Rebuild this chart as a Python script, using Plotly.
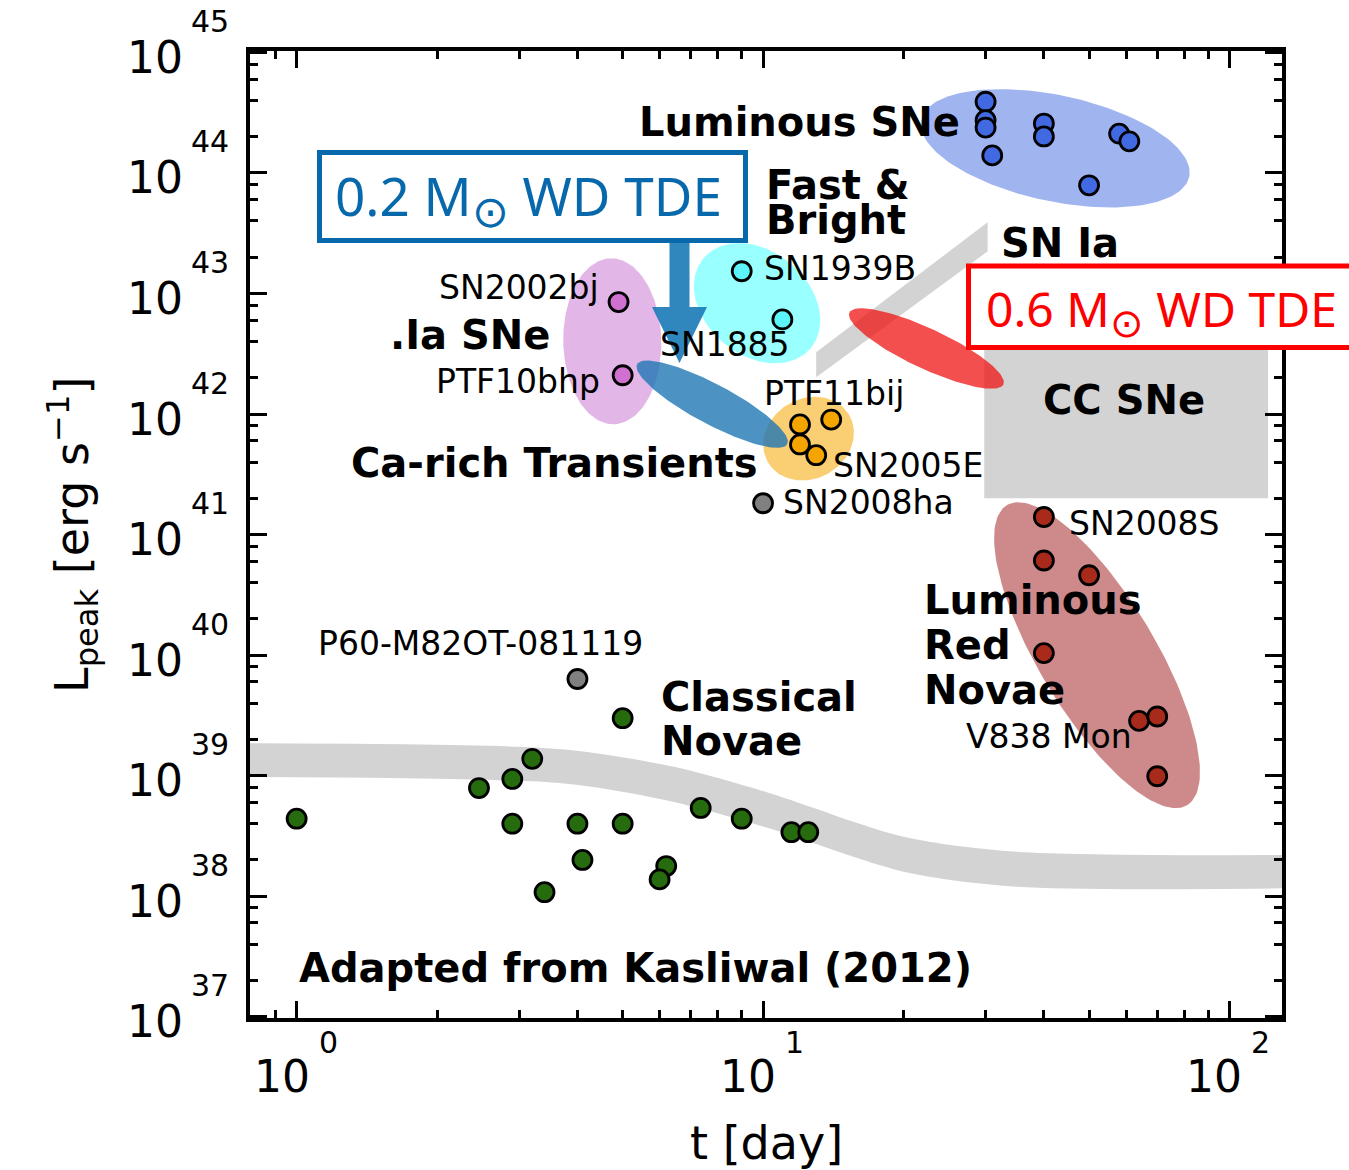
import numpy as np
import plotly.graph_objects as go

# ---------------- data (t in days, L_peak in erg/s) ----------------
novae_t = [1.0, 2.46, 2.9, 3.2, 2.9, 4.0, 5.0, 5.0, 4.1, 3.4, 6.2, 6.0, 7.35, 9.0, 11.5, 12.5]
novae_L = [4.4e38, 7.9e38, 9.4e38, 1.38e39, 4.0e38, 4.0e38, 4.0e38, 3.0e39, 2.0e38, 1.08e38,
           1.78e38, 1.38e38, 5.4e38, 4.4e38, 3.4e38, 3.4e38]
lumsn_t = [30, 30, 30, 31, 40, 40, 50, 58, 61]
lumsn_L = [3.9e44, 2.74e44, 2.38e44, 1.4e44, 2.57e44, 2.01e44, 7.9e43, 2.12e44, 1.83e44]
fast_t = [9.0, 11.0]
fast_L = [1.53e43, 6.1e42]
dotia_t = [4.9, 5.0]
dotia_L = [8.5e42, 2.1e42]
carich_t = [12.0, 14.0, 12.0, 13.0]
carich_L = [8.2e41, 9.0e41, 5.6e41, 4.56e41]
other_t = [10.0, 4.0]          # SN2008ha, P60-M82OT-081119
other_L = [1.82e41, 6.34e39]
lrn_t = [40, 40, 50, 40, 64, 70, 70]
lrn_L = [1.40e41, 6.1e40, 4.6e40, 1.04e40, 2.85e39, 3.1e39, 9.9e38]

# classical-novae band (grey)
band_t = [0.6, 3.7, 6.4, 10.3, 20, 35, 150]
band_hi = [1.86e39, 1.66e39, 1.19e39, 7.2e38, 3.12e38, 2.34e38, 2.2e38]
band_lo = [9.8e38, 8.65e38, 6.08e38, 3.66e38, 1.6e38, 1.2e38, 1.17e38]
# SN Ia band (grey parallelogram)
snia_t = [13, 30.3, 30.3, 13]
snia_L = [3.26e42, 3.9e43, 2.24e43, 2.02e42]
# CC SNe region (grey rectangle)
ccsn_t = [29.8, 121, 121, 29.8]
ccsn_L = [3.7e42, 3.7e42, 2.0e41, 2.0e41]

x_exps = [0, 1, 2]
y_exps = [37, 38, 39, 40, 41, 42, 43, 44, 45]
x_minor = [0.9] + [m * 10 ** k for k in (0, 1) for m in range(2, 10)]
y_minor = [m * 10.0 ** k for k in range(37, 45) for m in (2, 4, 6, 8)]

# ---------------- layout geometry ----------------
W, H = 1349, 1170
ML, MR, MT, MB = 250, 67, 51, 152
XR = [-0.1, 2.1126]
YR = [36.99, 45.012]
PW, PH = W - ML - MR, H - MT - MB
PX_X = PW / (XR[1] - XR[0])
PX_Y = PH / (YR[1] - YR[0])


def ellipse(tc, Lc, a, b, ang, n=160):
    th = np.linspace(0, 2 * np.pi, n)
    r = np.radians(ang)
    dx = a * np.cos(th) * np.cos(r) - b * np.sin(th) * np.sin(r)
    dy = a * np.cos(th) * np.sin(r) + b * np.sin(th) * np.cos(r)
    return 10 ** (np.log10(tc) + dx / PX_X), 10 ** (np.log10(Lc) - dy / PX_Y)


fig = go.Figure()


def region(x, y, color, shape="linear"):
    fig.add_trace(go.Scatter(x=list(x), y=list(y), mode="lines", fill="toself", fillcolor=color,
                             line=dict(width=0, shape=shape), hoverinfo="skip", showlegend=False))


GREY = "#d3d3d3"
# novae band
fig.add_trace(go.Scatter(x=band_t, y=band_lo, mode="lines", line=dict(width=0, shape="spline", smoothing=0.8),
                         hoverinfo="skip", showlegend=False))
fig.add_trace(go.Scatter(x=band_t, y=band_hi, mode="lines", fill="tonexty", fillcolor=GREY,
                         line=dict(width=0, shape="spline", smoothing=0.8), hoverinfo="skip", showlegend=False))
region(snia_t, snia_L, GREY)
region(ccsn_t, ccsn_L, GREY)

# class ellipses
region(*ellipse(42.3, 10 ** 44.205, 137, 53, 12), "rgba(65,105,225,0.5)")
region(*ellipse(9.71, 10 ** 42.92, 70, 52, 40), "rgba(0,255,255,0.4)")
region(*ellipse(4.75, 10 ** 42.604, 83, 49, 89), "rgba(200,110,210,0.5)")
region(*ellipse(12.52, 10 ** 41.796, 47, 40, -30), "rgba(245,165,0,0.55)")
region(*ellipse(52.0, 10 ** 40.0, 175, 58, 59), "rgba(165,42,42,0.55)")

# WD TDE ellipses
region(*ellipse(7.78, 10 ** 42.082, 85, 20, 28), "rgba(31,119,180,0.8)")
region(*ellipse(22.4, 10 ** 42.544, 85, 20, 25), "rgba(240,20,20,0.75)")

# arrow from the 0.2 Msun box
ta = np.log10(6.62)
ws, wh = 10 / PX_X, 27.5 / PX_X
ytop, ybase, ytip = 43.44, 42.889, 42.424
ax_ = [ta - ws, ta + ws, ta + ws, ta + wh, ta, ta - wh, ta - ws]
ay_ = [ytop, ytop, ybase, ybase, ytip, ybase, ybase]
region([10 ** v for v in ax_], [10 ** v for v in ay_], "rgba(30,125,185,0.92)")


def pts(x, y, color):
    fig.add_trace(go.Scatter(x=x, y=y, mode="markers", hoverinfo="skip", showlegend=False,
                             marker=dict(size=19, color=color, line=dict(width=2.8, color="black"))))


pts(novae_t, novae_L, "#266b0e")
pts(other_t, other_L, "#808080")
pts(lumsn_t, lumsn_L, "#4169e1")
pts(fast_t, fast_L, "#5cf4f8")
pts(dotia_t, dotia_L, "#d070d0")
pts(carich_t, carich_L, "#f5a500")
pts(lrn_t, lrn_L, "#a82a1a")

ann = []
BOLD = dict(family="DejaVu Sans", size=40, color="black", weight="bold")
NORM = dict(family="DejaVu Sans", size=33, color="black")


def lab(text, t, logL, anchor, font):
    ann.append(dict(text=text, x=np.log10(t), y=logL, xref="x", yref="y", xanchor=anchor,
                    yanchor="middle", showarrow=False, font=font, borderpad=0, borderwidth=0))


for text, t, lg, a in [("Luminous SNe", 26.5, 44.42, "right"), ("Fast &amp;", 10.15, 43.898, "left"),
                       ("Bright", 10.15, 43.608, "left"), ("SN Ia", 32.3, 43.417, "left"),
                       ("CC SNe", 59.3, 42.115, "center"), (".Ia SNe", 3.485, 42.654, "right"),
                       ("Ca-rich Transients", 9.76, 41.593, "right"), ("Luminous", 22.1, 40.457, "left"),
                       ("Red", 22.1, 40.084, "left"), ("Novae", 22.1, 39.71, "left"),
                       ("Classical", 6.05, 39.653, "left"), ("Novae", 6.05, 39.287, "left"),
                       ("Adapted from Kasliwal (2012)", 1.011, 37.405, "left")]:
    lab(text, t, lg, a, BOLD)

for text, t, lg, a in [("SN2002bj", 4.44, 43.052, "right"), ("PTF10bhp", 4.48, 42.273, "right"),
                       ("SN1939B", 10.05, 43.21, "left"), ("SN1885", 6.02, 42.58, "left"),
                       ("PTF11bij", 10.05, 42.173, "left"), ("SN2005E", 14.13, 41.576, "left"),
                       ("SN2008ha", 11.04, 41.27, "left"), ("SN2008S", 45.2, 41.095, "left"),
                       ("V838 Mon", 27.2, 39.329, "left"), ("P60-M82OT-081119", 1.11, 40.10, "left")]:
    lab(text, t, lg, a, NORM)

TICKF = dict(family="DejaVu Sans", size=44, color="black")
SUPF = dict(family="DejaVu Sans", size=30, color="black")
for e in y_exps:
    ann.append(dict(text="10", xref="paper", x=(185 - ML) / PW, yref="y", y=e, xanchor="right",
                    yanchor="middle", yshift=-5, showarrow=False, font=TICKF))
    ann.append(dict(text=str(e), xref="paper", x=(189 - ML) / PW, yref="y", y=e, xanchor="left",
                    yanchor="middle", yshift=31, showarrow=False, font=SUPF))
for e in x_exps:
    ann.append(dict(text="10", xref="x", x=e, yref="paper", y=0, xanchor="right", xshift=15,
                    yanchor="middle", yshift=-58, showarrow=False, font=TICKF))
    ann.append(dict(text=str(e), xref="x", x=e, yref="paper", y=0, xanchor="left", xshift=20,
                    yanchor="middle", yshift=-24, showarrow=False, font=SUPF))

ann.append(dict(text="t [day]", xref="paper", x=0.5, yref="paper", y=(1018 - 1143) / PH,
                xanchor="center", yanchor="middle", showarrow=False,
                font=dict(family="DejaVu Sans", size=46, color="black")))
ann.append(dict(text="L<sub>peak</sub> [erg s<sup>\u22121</sup>]", xref="paper", x=(72 - ML) / PW,
                yref="paper", y=(1018 - 535) / PH, xanchor="center", yanchor="middle", textangle=-90,
                showarrow=False, font=dict(family="DejaVu Sans", size=46, color="black")))

BLUE = "#0868ac"
ann.append(dict(text="0.2 M<sub><span style='font-size:44px'>\u2299</span></sub> WD TDE", xref="paper",
                x=(334 - ML) / PW, yref="paper", y=(1018 - 200) / PH, xanchor="left", yanchor="middle",
                showarrow=False, borderpad=0, font=dict(family="Noto Sans", size=53, color=BLUE)))
ann.append(dict(text="0.6 M<sub><span style='font-size:40px'>\u2299</span></sub> WD TDE", xref="paper",
                x=(985 - ML) / PW, yref="paper", y=(1018 - 312) / PH, xanchor="left", yanchor="middle",
                showarrow=False, borderpad=0, font=dict(family="Noto Sans", size=48, color="#ff0000")))

shapes = [
    dict(type="rect", xref="paper", yref="paper", x0=(319.5 - ML) / PW, x1=(745.5 - ML) / PW,
         y0=(1018 - 240.5) / PH, y1=(1018 - 152.5) / PH, line=dict(color=BLUE, width=5),
         fillcolor="white", layer="above"),
    dict(type="rect", xref="paper", yref="paper", x0=(968.5 - ML) / PW, x1=(1380 - ML) / PW,
         y0=(1018 - 347.5) / PH, y1=(1018 - 266) / PH, line=dict(color="#ff0000", width=5),
         fillcolor="white", layer="above"),
]

axis_common = dict(type="log", showline=True, linewidth=4, linecolor="black", mirror="allticks",
                   ticks="inside", ticklen=17, tickwidth=3, tickcolor="black", showgrid=False,
                   zeroline=False, showticklabels=False)

fig.update_layout(
    width=W, height=H, margin=dict(l=ML, r=MR, t=MT, b=MB),
    paper_bgcolor="white", plot_bgcolor="white", showlegend=False,
    xaxis=dict(range=XR, tickmode="array", tickvals=[10 ** e for e in x_exps],
               minor=dict(ticks="inside", ticklen=8, tickwidth=2.5, tickcolor="black",
                          tickmode="array", tickvals=x_minor, showgrid=False), **axis_common),
    yaxis=dict(range=YR, tickmode="array", tickvals=[10.0 ** e for e in y_exps],
               minor=dict(ticks="inside", ticklen=8, tickwidth=2.5, tickcolor="black",
                          tickmode="array", tickvals=y_minor, showgrid=False), **axis_common),
    annotations=ann, shapes=shapes,
)

fig.write_html("out.html")
